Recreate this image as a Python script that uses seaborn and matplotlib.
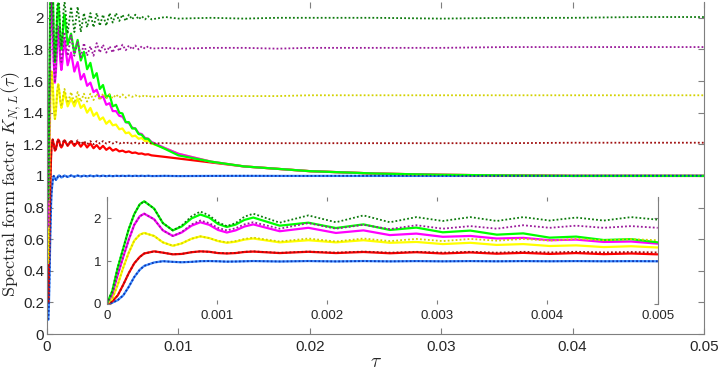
import matplotlib
matplotlib.use("Agg")
import matplotlib.pyplot as plt
import seaborn as sns

# sample times (shared by every curve); the inset shows the first 35 of them
TAU = [
    0, 0.00005, 0.0001, 0.00015, 0.0002, 0.00025, 0.0003, 0.00034, 0.00043, 0.00051,
    0.0006, 0.00068, 0.00077, 0.00085, 0.00093, 0.00101, 0.00109, 0.00117, 0.00125, 0.00133,
    0.00157, 0.00183, 0.00208, 0.00233, 0.00257, 0.00281, 0.00305, 0.0033, 0.00354, 0.00378,
    0.00402, 0.00426, 0.00451, 0.00476, 0.005, 0.00525, 0.0055, 0.00574, 0.00599, 0.00623,
    0.00648, 0.00672, 0.00697, 0.00721, 0.00746, 0.0077, 0.00795, 0.009, 0.01, 0.0125,
    0.015, 0.0175, 0.02, 0.025, 0.03, 0.035, 0.04, 0.045, 0.05,
]
N_INSET = 35

GREEN = [
    0, 0.3, 0.85, 1.3, 1.75, 2.1, 2.33, 2.40, 2.23, 1.89,
    1.72, 1.81, 2.0, 2.09, 2.02, 1.87, 1.80, 1.855, 1.965, 2.02,
    1.83, 1.90, 1.775, 1.86, 1.73, 1.785, 1.675, 1.715, 1.62, 1.65,
    1.55, 1.575, 1.495, 1.515, 1.44, 1.45, 1.40, 1.395, 1.34, 1.34,
    1.30, 1.30, 1.265, 1.26, 1.235, 1.235, 1.21, 1.17, 1.13, 1.09,
    1.06, 1.045, 1.03, 1.015, 1.007, 1.003, 1.0, 1.0, 1.0,
]
GREEN_DOT = [
    0, 0.3, 0.85, 1.3, 1.75, 2.1, 2.33, 2.40, 2.23, 1.89,
    1.72, 1.83, 2.05, 2.16, 2.07, 1.91, 1.82, 1.89, 2.04, 2.11,
    1.90, 2.07, 1.91, 2.07, 1.91, 2.03, 1.94, 2.03, 1.94, 2.03,
    1.95, 2.02, 1.95, 2.03, 1.97, 2.03, 1.98, 2.02, 1.98, 2.02,
    1.99, 2.02, 1.99, 2.01, 1.99, 2.01, 1.99, 2.005, 1.995, 2.0,
    1.995, 2.0, 2.0, 2.0, 1.995, 2.0, 2.0, 2.005, 2.005,
]
MAGENTA = [
    0, 0.22, 0.68, 1.1, 1.5, 1.85, 2.05, 2.11, 1.98, 1.72,
    1.59, 1.67, 1.83, 1.91, 1.85, 1.73, 1.67, 1.72, 1.81, 1.86,
    1.70, 1.78, 1.66, 1.72, 1.61, 1.645, 1.57, 1.59, 1.53, 1.545,
    1.49, 1.505, 1.45, 1.46, 1.41, 1.41, 1.38, 1.375, 1.34, 1.335,
    1.305, 1.30, 1.27, 1.265, 1.24, 1.235, 1.215, 1.175, 1.14, 1.09,
    1.06, 1.045, 1.03, 1.015, 1.007, 1.003, 1.0, 1.0, 1.0,
]
PURPLE_DOT = [
    0, 0.22, 0.68, 1.1, 1.5, 1.85, 2.05, 2.11, 1.98, 1.72,
    1.59, 1.68, 1.86, 1.95, 1.89, 1.78, 1.72, 1.77, 1.86, 1.91,
    1.76, 1.89, 1.76, 1.85, 1.75, 1.84, 1.76, 1.82, 1.76, 1.84,
    1.78, 1.83, 1.78, 1.82, 1.78, 1.83, 1.79, 1.83, 1.795, 1.825,
    1.80, 1.825, 1.80, 1.82, 1.805, 1.82, 1.805, 1.81, 1.805, 1.81,
    1.81, 1.805, 1.81, 1.81, 1.81, 1.815, 1.815, 1.815, 1.815,
]
YELLOW = [
    0, 0.12, 0.45, 0.85, 1.2, 1.48, 1.62, 1.66, 1.59, 1.44,
    1.36, 1.415, 1.525, 1.58, 1.54, 1.47, 1.43, 1.455, 1.505, 1.53,
    1.44, 1.49, 1.44, 1.49, 1.43, 1.45, 1.40, 1.43, 1.38, 1.40,
    1.355, 1.37, 1.33, 1.35, 1.32, 1.325, 1.295, 1.30, 1.27, 1.275,
    1.25, 1.255, 1.235, 1.24, 1.22, 1.222, 1.205, 1.175, 1.14, 1.09,
    1.06, 1.045, 1.03, 1.015, 1.007, 1.003, 1.0, 1.0, 1.0,
]
YELLOW_DOT = [
    0, 0.12, 0.45, 0.85, 1.2, 1.48, 1.62, 1.66, 1.59, 1.44,
    1.36, 1.415, 1.525, 1.58, 1.54, 1.475, 1.44, 1.47, 1.52, 1.55,
    1.46, 1.53, 1.46, 1.53, 1.47, 1.52, 1.47, 1.52, 1.48, 1.52,
    1.48, 1.52, 1.49, 1.515, 1.49, 1.515, 1.495, 1.515, 1.495, 1.51,
    1.50, 1.51, 1.50, 1.51, 1.50, 1.51, 1.50, 1.505, 1.505, 1.505,
    1.505, 1.505, 1.51, 1.51, 1.51, 1.51, 1.51, 1.51, 1.51,
]
RED = [
    0, 0.06, 0.2, 0.45, 0.72, 0.95, 1.1, 1.18, 1.23, 1.20,
    1.16, 1.17, 1.21, 1.23, 1.22, 1.19, 1.18, 1.19, 1.215, 1.225,
    1.19, 1.22, 1.19, 1.215, 1.185, 1.21, 1.18, 1.205, 1.175, 1.195,
    1.17, 1.19, 1.165, 1.18, 1.16, 1.17, 1.155, 1.16, 1.15, 1.155,
    1.145, 1.148, 1.14, 1.142, 1.135, 1.137, 1.13, 1.12, 1.11, 1.085,
    1.06, 1.045, 1.03, 1.015, 1.007, 1.003, 1.0, 1.0, 1.0,
]
RED_DOT = [
    0, 0.06, 0.2, 0.45, 0.72, 0.95, 1.1, 1.18, 1.23, 1.20,
    1.16, 1.17, 1.21, 1.23, 1.22, 1.195, 1.185, 1.195, 1.22, 1.23,
    1.195, 1.225, 1.20, 1.225, 1.20, 1.22, 1.20, 1.22, 1.20, 1.22,
    1.205, 1.22, 1.205, 1.215, 1.205, 1.215, 1.205, 1.212, 1.205, 1.212,
    1.205, 1.21, 1.205, 1.21, 1.205, 1.21, 1.205, 1.208, 1.205, 1.207,
    1.207, 1.207, 1.207, 1.207, 1.207, 1.207, 1.21, 1.21, 1.21,
]
BLUE = [
    0, 0.03, 0.09, 0.2, 0.4, 0.63, 0.8, 0.89, 0.97, 1.0,
    0.985, 0.975, 0.985, 1.0, 1.003, 0.998, 0.99, 0.993, 0.998, 1.003,
    0.993, 1.003, 0.995, 1.003, 0.996, 1.002, 0.997, 1.002, 0.997, 1.002,
    0.998, 1.002, 0.998, 1.001, 0.998, 1.001, 0.999, 1.001, 0.999, 1.001,
    0.999, 1.001, 0.999, 1.001, 0.999, 1.001, 0.999, 1.0, 0.999, 1.0,
    1.0, 1.0, 1.0, 1.0, 1.0, 1.0, 1.0, 1.001, 1.001,
]
BLUE_DOT = [
    0, 0.03, 0.09, 0.2, 0.4, 0.63, 0.8, 0.89, 0.97, 1.0,
    0.985, 0.975, 0.985, 1.0, 1.003, 0.998, 0.99, 0.993, 0.998, 1.003,
    0.994, 1.003, 0.995, 1.002, 0.996, 1.002, 0.997, 1.002, 0.998, 1.002,
    0.998, 1.002, 0.998, 1.001, 0.999, 1.001, 0.999, 1.001, 0.999, 1.001,
    0.999, 1.001, 0.999, 1.001, 0.999, 1.001, 0.999, 1.001, 0.999, 1.0,
    1.001, 1.0, 1.0, 1.001, 1.0, 1.0, 1.001, 1.001, 1.001,
]

MAIN_XTICKS = [0, 0.01, 0.02, 0.03, 0.04, 0.05]
MAIN_XLABELS = ["0", "0.01", "0.02", "0.03", "0.04", "0.05"]
MAIN_YTICKS = [0, 0.2, 0.4, 0.6, 0.8, 1.0, 1.2, 1.4, 1.6, 1.8, 2.0]
MAIN_YLABELS = ["0", "0.2", "0.4", "0.6", "0.8", "1", "1.2", "1.4", "1.6", "1.8", "2"]
INSET_XTICKS = [0, 0.001, 0.002, 0.003, 0.004, 0.005]
INSET_XLABELS = ["0", "0.001", "0.002", "0.003", "0.004", "0.005"]
INSET_YTICKS = [0, 1, 2]
INSET_YLABELS = ["0", "1", "2"]

SOLID_LW = 1.6
DOT_LW = 1.3
DOTS = (0, (1, 1.2))

# solid curves drawn first, dotted ones on top
CURVES = [
    (BLUE, "#3b8cff", "-", SOLID_LW),
    (RED, "#ff0000", "-", SOLID_LW),
    (YELLOW, "#ffff00", "-", SOLID_LW),
    (MAGENTA, "#ff00ff", "-", SOLID_LW),
    (GREEN, "#00ff00", "-", SOLID_LW),
    (BLUE_DOT, "#1034b0", DOTS, DOT_LW),
    (RED_DOT, "#a01010", DOTS, DOT_LW),
    (YELLOW_DOT, "#d2d200", DOTS, DOT_LW),
    (PURPLE_DOT, "#9a1a9a", DOTS, DOT_LW),
    (GREEN_DOT, "#0d7a0d", DOTS, DOT_LW),
]

SPINE = "#7f7f7f"
TEXT = "#262626"

sns.set_style("white")
plt.rcParams["font.family"] = ["Liberation Sans", "DejaVu Sans"]
plt.rcParams["mathtext.fontset"] = "cm"


def draw_curves(ax, start, stop):
    for vals, color, ls, lw in CURVES:
        sns.lineplot(x=TAU[start:stop], y=vals[start:stop], color=color,
                     linestyle=ls, linewidth=lw, estimator=None, sort=False,
                     legend=False, ax=ax)


def style_axes(ax, size, length):
    for side in ["left", "right", "bottom", "top"]:
        ax.spines[side].set_color(SPINE)
        ax.spines[side].set_linewidth(0.8)
    ax.tick_params(direction="in", length=length, width=0.8, color=SPINE,
                   labelcolor=TEXT, labelsize=size,
                   top=True, right=True, bottom=True, left=True)


fig = plt.figure(figsize=(7.19, 3.71), dpi=100)
ax = fig.add_axes([0.0654, 0.0997, 0.9137, 0.8949])
# main plot starts at the third sample (the first ones sit inside the steep rise)
draw_curves(ax, 2, len(TAU))
ax.set_xlim(0, 0.05)
ax.set_ylim(0, 2.1)
ax.set_xticks(MAIN_XTICKS, labels=MAIN_XLABELS)
ax.set_yticks(MAIN_YTICKS, labels=MAIN_YLABELS)
style_axes(ax, 11, 4)
ax.spines["top"].set_visible(False)
ax.tick_params(axis="x", pad=4)
ax.tick_params(axis="y", pad=2)
ax.set_xlabel(r"$\tau$", fontsize=14, color=TEXT, labelpad=0)
ax.set_ylabel(r"$\mathrm{Spectral\ form\ factor}\ K_{N,L}(\tau)$",
              fontsize=13, color=TEXT)
ax.yaxis.set_label_coords(-0.036, 0.45)

ins = fig.add_axes([0.1484, 0.1806, 0.7663, 0.2884])
ins.set_facecolor("white")
draw_curves(ins, 0, N_INSET)
ins.set_xlim(0, 0.005)
ins.set_ylim(0, 2.5)
ins.set_xticks(INSET_XTICKS, labels=INSET_XLABELS)
ins.set_yticks(INSET_YTICKS, labels=INSET_YLABELS)
style_axes(ins, 9.5, 3)
ins.spines["top"].set_visible(False)
ins.spines["bottom"].set_visible(False)
ins.tick_params(axis="x", pad=4)
ins.tick_params(axis="y", pad=4)
ins.set_xlabel("")
ins.set_ylabel("")

fig.savefig("out.png", dpi=100)
